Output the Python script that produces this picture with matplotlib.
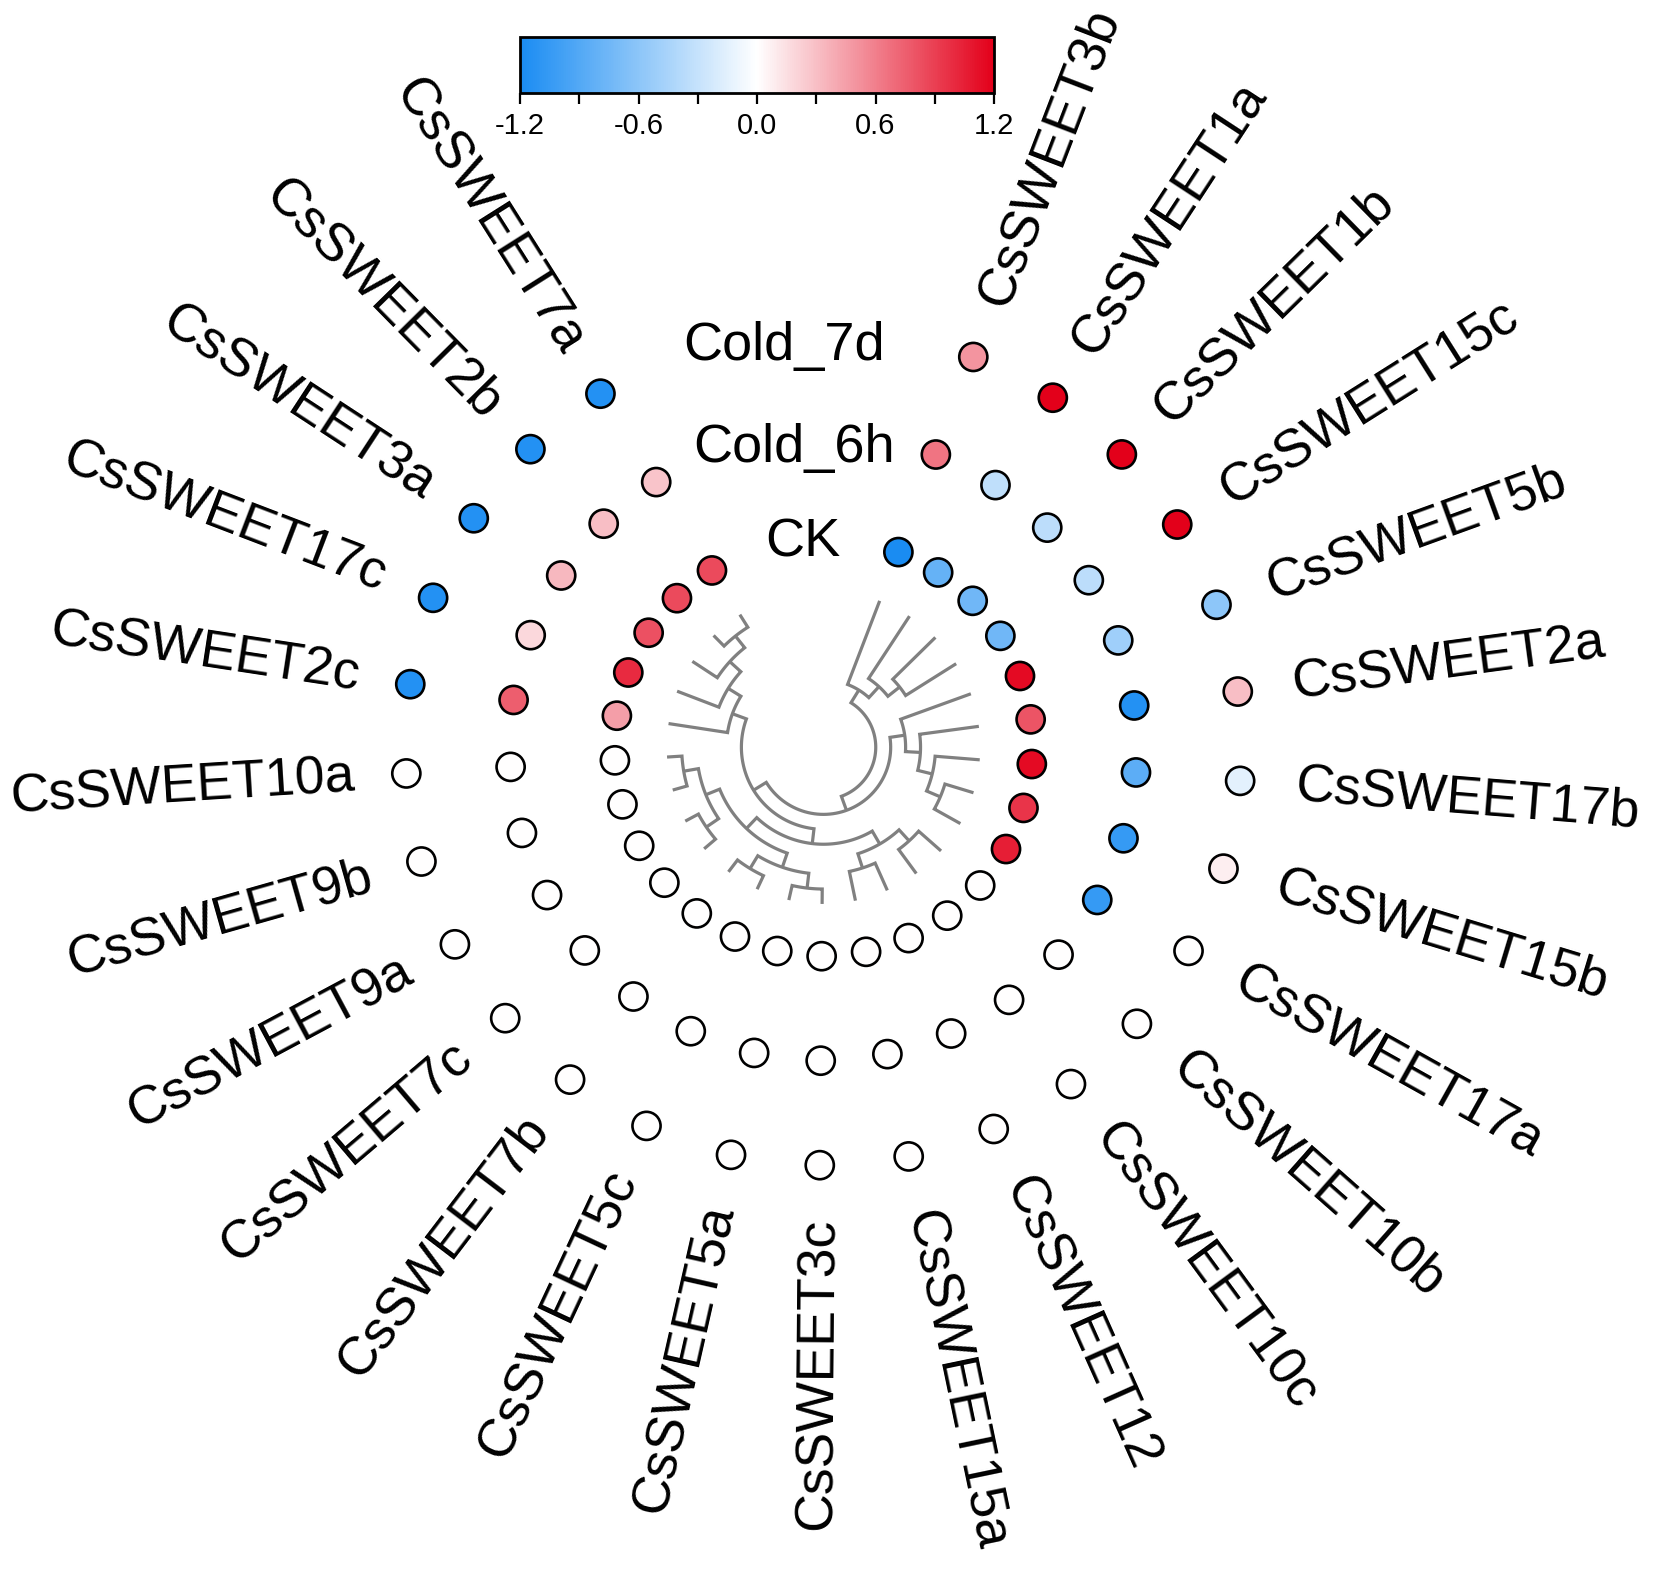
import numpy as np
import matplotlib
matplotlib.use('Agg')
import matplotlib.pyplot as plt
from matplotlib.colors import LinearSegmentedColormap, Normalize

plt.rcParams['font.family'] = ['Liberation Sans', 'DejaVu Sans']
plt.rcParams['axes.unicode_minus'] = False

# genes clockwise from the top gap
genes = ['CsSWEET3b', 'CsSWEET1a', 'CsSWEET1b', 'CsSWEET15c', 'CsSWEET5b',
         'CsSWEET2a', 'CsSWEET17b', 'CsSWEET15b', 'CsSWEET17a', 'CsSWEET10b',
         'CsSWEET10c', 'CsSWEET12', 'CsSWEET15a', 'CsSWEET3c', 'CsSWEET5a',
         'CsSWEET5c', 'CsSWEET7b', 'CsSWEET7c', 'CsSWEET9a', 'CsSWEET9b',
         'CsSWEET10a', 'CsSWEET2c', 'CsSWEET17c', 'CsSWEET3a', 'CsSWEET2b',
         'CsSWEET7a']

ck = [-1.2, -0.8, -0.75, -0.75, 1.15, 0.8, 1.15, 0.95, 1.05,
      0, 0, 0, 0, 0, 0, 0, 0, 0, 0, 0, 0,
      0.45, 1.0, 0.82, 0.85, 0.85]
cold_6h = [0.65, -0.33, -0.35, -0.35, -0.5, -1.15, -0.85, -1.05, -1.05,
           0, 0, 0, 0, 0, 0, 0, 0, 0, 0, 0, 0,
           0.75, 0.18, 0.33, 0.3, 0.28]
cold_7d = [0.5, 1.2, 1.2, 1.2, -0.6, 0.3, -0.15, 0.08, 0,
           0, 0, 0, 0, 0, 0, 0, 0, 0, 0, 0, 0,
           -1.15, -1.15, -1.15, -1.15, -1.15]

conditions = ['CK', 'Cold_6h', 'Cold_7d']

# clustering tree (topology only, drawn as a cladogram)
tree = (('CsSWEET3b', ('CsSWEET1a', ('CsSWEET1b', 'CsSWEET15c'))),
        (('CsSWEET5b', ('CsSWEET2a', ('CsSWEET17b', ('CsSWEET15b', 'CsSWEET17a')))),
         (((('CsSWEET10b', 'CsSWEET10c'), ('CsSWEET12', 'CsSWEET15a')),
           ((('CsSWEET3c', 'CsSWEET5a'), ('CsSWEET5c', 'CsSWEET7b')),
            (('CsSWEET7c', 'CsSWEET9a'), ('CsSWEET9b', 'CsSWEET10a')))),
          ('CsSWEET2c', ('CsSWEET17c', ('CsSWEET3a', ('CsSWEET2b', 'CsSWEET7a')))))))

cbar_ticks = [-1.2, -0.6, 0.0, 0.6, 1.2]
cbar_ticklabels = ['-1.2', '-0.6', '0.0', '0.6', '1.2']
cbar_minor = [-0.9, -0.3, 0.3, 0.9]

W, H, DPI = 1655, 1570, 100
cx_px, cy_px, unit_px = 823.5, 747.2, 104.5
start_angle, step_angle = 69.0, 12.27
ring_r = [2.0, 3.0, 4.0]
ring_label_shift = [0.03, 0.12, 0.14]
label_r_right, label_r_left = 4.53, 4.5
tip_r, root_r = 1.5, 0.5

cmap = LinearSegmentedColormap.from_list('bwr2', ['#1A8CF2', '#FFFFFF', '#E3001A'])
norm = Normalize(vmin=-1.2, vmax=1.2)

fig = plt.figure(figsize=(W / DPI, H / DPI), dpi=DPI, facecolor='white')
ax = fig.add_axes([0, 0, 1, 1])
ax.set_xlim(-cx_px / unit_px, (W - cx_px) / unit_px)
ax.set_ylim(-(H - cy_px) / unit_px, cy_px / unit_px)
ax.axis('off')

n = len(genes)
idx = np.arange(n)
theta = np.deg2rad(start_angle - idx * step_angle)


def pos_angle(p):
    return np.deg2rad(start_angle - p * step_angle)


# heat dots
for vals, r in zip([ck, cold_6h, cold_7d], ring_r):
    ax.scatter(r * np.cos(theta), r * np.sin(theta), c=vals, cmap=cmap, norm=norm,
               s=410, edgecolors='black', linewidths=1.9, zorder=3)

# ring labels in the gap
gap = np.deg2rad((start_angle + start_angle - (n - 1) * step_angle + 360) / 2)
for name, r, sh in zip(conditions, ring_r, ring_label_shift):
    ax.text((r - sh) * np.cos(gap), (r - sh) * np.sin(gap), name,
            ha='center', va='center', fontsize=39)

# gene labels
for g, t in zip(genes, theta):
    deg = np.rad2deg(t)
    d = (deg + 180) % 360 - 180
    if -89.9 < d < 90:
        x, y = label_r_right * np.cos(t), label_r_right * np.sin(t)
        ax.text(x, y, g, rotation=d, ha='left', va='center',
                rotation_mode='anchor', fontsize=38.5)
    else:
        x, y = label_r_left * np.cos(t), label_r_left * np.sin(t)
        ax.text(x, y, g, rotation=d - 180, ha='right', va='center',
                rotation_mode='anchor', fontsize=38.5)


# dendrogram
def depth_of(node):
    if isinstance(node, str):
        return 0
    return 1 + max(depth_of(c) for c in node)


max_depth = depth_of(tree)
dstep = (tip_r - root_r) / max_depth
gene_pos = {g: i for i, g in enumerate(genes)}


def draw(node, depth):
    # returns (position index, radius) of node
    if isinstance(node, str):
        return gene_pos[node], tip_r
    r_node = root_r + depth * dstep
    kids = [draw(c, depth + 1) for c in node]
    (p1, r1), (p2, r2) = kids
    arc = np.linspace(pos_angle(p1), pos_angle(p2), 60)
    xs = np.concatenate([[r1 * np.cos(arc[0])], r_node * np.cos(arc), [r2 * np.cos(arc[-1])]])
    ys = np.concatenate([[r1 * np.sin(arc[0])], r_node * np.sin(arc), [r2 * np.sin(arc[-1])]])
    ax.plot(xs, ys, color='#808080', lw=2.3, solid_joinstyle='miter',
            solid_capstyle='butt', zorder=2)
    return (p1 + p2) / 2, r_node


draw(tree, 0)

# colour bar
cax = fig.add_axes([520 / W, 1 - 93 / H, 474 / W, 56 / H])
sm = plt.cm.ScalarMappable(norm=norm, cmap=cmap)
cb = fig.colorbar(sm, cax=cax, orientation='horizontal')
cb.set_ticks(cbar_ticks)
cb.set_ticklabels(cbar_ticklabels)
cb.ax.set_xticks(cbar_minor, minor=True)
cb.outline.set_linewidth(2)
cb.ax.tick_params(which='both', direction='out', length=8, width=1.6,
                  labelsize=21, pad=6)

fig.savefig('out.png', dpi=DPI, facecolor='white')
